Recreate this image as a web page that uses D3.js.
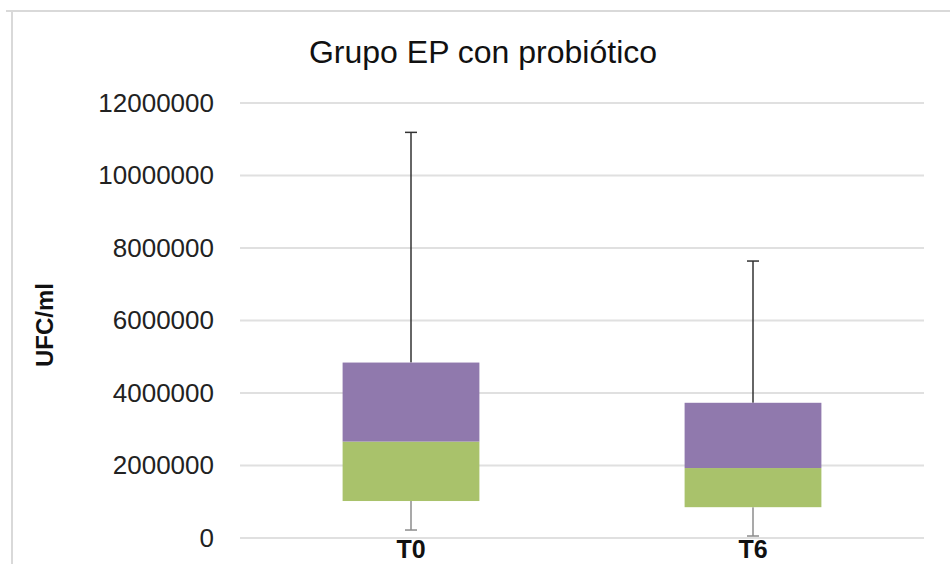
<!DOCTYPE html>
<html><head><meta charset="utf-8">
<script src="https://cdn.jsdelivr.net/npm/d3@7"></script>
<style>html,body{margin:0;padding:0;background:#fff;}svg{display:block;}</style>
</head><body>
<svg id="c" width="950" height="564"></svg>
<script>
const categories = ["T0", "T6"];
const minVals    = [220000, 55000];
const q1Vals     = [1020000, 850000];
const medianVals = [2660000, 1930000];
const q3Vals     = [4840000, 3730000];
const maxVals    = [11190000, 7640000];
const yTicks     = [0, 2000000, 4000000, 6000000, 8000000, 10000000, 12000000];
const title = "Grupo EP con probiótico";
const yLabel = "UFC/ml";

const svg = d3.select("#c");
const font = "'Liberation Sans', Arial, sans-serif";

// outer frame
svg.append("path").attr("d", "M6,11H950M12,11V564")
  .attr("fill", "none").attr("stroke", "#d9d9d9").attr("stroke-width", 2);

const x = d3.scaleBand().domain(categories).range([240, 924]).padding(0);
const y = d3.scaleLinear().domain([0, 12000000]).range([538, 103]);

// grid
svg.append("g").selectAll("line").data(yTicks).join("line")
  .attr("x1", 240).attr("x2", 924)
  .attr("y1", d => y(d)).attr("y2", d => y(d))
  .attr("stroke", "#e0e0e0").attr("stroke-width", 2);

// y axis labels
const yAxis = d3.axisLeft(y).tickValues(yTicks).tickSize(0).tickPadding(0).tickFormat(d3.format("d"));
const gy = svg.append("g").attr("transform", "translate(214,0)").call(yAxis);
gy.select(".domain").remove();
gy.selectAll("text").attr("font-family", font).attr("font-size", 26).attr("fill", "#222");

const rows = categories.map((c, i) => ({c, min: minVals[i], q1: q1Vals[i], med: medianVals[i], q3: q3Vals[i], max: maxVals[i]}));
const bw = x.bandwidth() * 0.4;
const cx = d => x(d.c) + x.bandwidth() / 2;
const capW = 12;

const g = svg.append("g");
// lower whisker
g.selectAll(".lw").data(rows).join("line").attr("class", "lw")
  .attr("x1", cx).attr("x2", cx).attr("y1", d => y(d.q1)).attr("y2", d => y(d.min))
  .attr("stroke", "#8c8c8c").attr("stroke-width", 1.5);
g.selectAll(".lc").data(rows).join("line").attr("class", "lc")
  .attr("x1", d => cx(d) - capW / 2).attr("x2", d => cx(d) + capW / 2)
  .attr("y1", d => y(d.min)).attr("y2", d => y(d.min))
  .attr("stroke", "#8c8c8c").attr("stroke-width", 1.5);
// upper whisker
g.selectAll(".uw").data(rows).join("line").attr("class", "uw")
  .attr("x1", cx).attr("x2", cx).attr("y1", d => y(d.q3)).attr("y2", d => y(d.max))
  .attr("stroke", "#333").attr("stroke-width", 1.5);
g.selectAll(".uc").data(rows).join("line").attr("class", "uc")
  .attr("x1", d => cx(d) - capW / 2).attr("x2", d => cx(d) + capW / 2)
  .attr("y1", d => y(d.max)).attr("y2", d => y(d.max))
  .attr("stroke", "#333").attr("stroke-width", 1.5);
// green (q1-median)
g.selectAll(".bl").data(rows).join("rect").attr("class", "bl")
  .attr("x", d => cx(d) - bw / 2).attr("width", bw)
  .attr("y", d => y(d.med)).attr("height", d => y(d.q1) - y(d.med))
  .attr("fill", "#a9c26b");
// purple (median-q3)
g.selectAll(".bu").data(rows).join("rect").attr("class", "bu")
  .attr("x", d => cx(d) - bw / 2).attr("width", bw)
  .attr("y", d => y(d.q3)).attr("height", d => y(d.med) - y(d.q3))
  .attr("fill", "#9079ad");

// x axis labels
const xAxis = d3.axisBottom(x).tickSize(0).tickPadding(0);
const gx = svg.append("g").attr("transform", "translate(0,540)").call(xAxis);
gx.select(".domain").remove();
gx.selectAll("text").attr("font-family", font).attr("font-size", 25).attr("font-weight", "bold")
  .attr("fill", "#111").attr("dy", "0.71em");

// title
svg.append("text").attr("x", 483).attr("y", 63).attr("text-anchor", "middle")
  .attr("font-family", font).attr("font-size", 32).attr("fill", "#111").text(title);

// y label
svg.append("text").attr("transform", "translate(53,325) rotate(-90)")
  .attr("text-anchor", "middle").attr("font-family", font).attr("font-size", 24)
  .attr("font-weight", "bold").attr("fill", "#111").text(yLabel);
</script>
</body></html>
